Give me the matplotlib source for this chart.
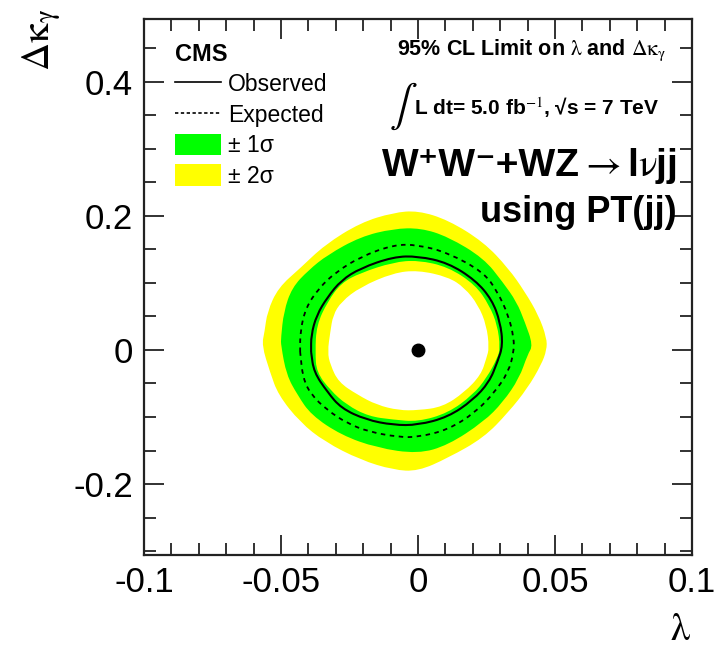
import matplotlib
matplotlib.use('Agg')
import matplotlib.pyplot as plt
from matplotlib.lines import Line2D
from matplotlib.patches import Patch, PathPatch
from matplotlib.path import Path
from matplotlib.ticker import MultipleLocator, FixedLocator, FixedFormatter

plt.rcParams['font.family'] = ['Liberation Sans', 'DejaVu Sans']
plt.rcParams['mathtext.fontset'] = 'stix'
plt.rcParams['axes.unicode_minus'] = False

# 95% CL contours, (lambda, delta kappa_gamma)
# outer edge of the +-2 sigma band
p2_lam = [-0.057, -0.056, -0.055, -0.051, -0.043, -0.034, -0.021, -0.009, 0.000, 0.011, 0.024, 0.033, 0.039, 0.044,
          0.047, 0.047, 0.045, 0.040, 0.033, 0.024, 0.011, 0.000, -0.009, -0.021, -0.034, -0.043, -0.051, -0.054]
p2_dk = [0.007, 0.027, 0.057, 0.093, 0.122, 0.157, 0.190, 0.205, 0.208, 0.194, 0.161, 0.122, 0.087, 0.052,
         0.018, 0.000, -0.022, -0.057, -0.093, -0.131, -0.161, -0.181, -0.179, -0.164, -0.137, -0.108, -0.067, -0.033]
# outer edge of the +-1 sigma band
p1_lam = [-0.050, -0.049, -0.046, -0.040, -0.033, -0.021, -0.009, 0.001, 0.011, 0.024, 0.031, 0.036, 0.039,
          0.042, 0.040, 0.037, 0.031, 0.024, 0.011, 0.000, -0.015, -0.028, -0.039, -0.044, -0.048, -0.050]
p1_dk = [0.018, 0.057, 0.093, 0.119, 0.142, 0.169, 0.181, 0.182, 0.169, 0.137, 0.101, 0.072, 0.042,
         0.007, -0.007, -0.042, -0.078, -0.107, -0.142, -0.155, -0.146, -0.127, -0.097, -0.067, -0.037, 0.007]
# inner edge of the +-1 sigma band
m1_lam = [-0.0375, -0.037, -0.033, -0.028, -0.021, -0.009, 0.000, 0.011, 0.021, 0.026, 0.029, 0.030,
          0.029, 0.025, 0.020, 0.011, 0.000, -0.009, -0.018, -0.026, -0.032, -0.037]
m1_dk = [-0.003, 0.037, 0.072, 0.100, 0.115, 0.131, 0.134, 0.124, 0.097, 0.067, 0.037, 0.003,
         -0.012, -0.042, -0.067, -0.094, -0.107, -0.104, -0.099, -0.082, -0.060, -0.033]
# inner edge of the +-2 sigma band
m2_lam = [-0.033, -0.032, -0.031, -0.028, -0.021, -0.009, 0.000, 0.011, 0.017, 0.022, 0.025, 0.026,
          0.025, 0.023, 0.017, 0.009, 0.000, -0.007, -0.015, -0.022, -0.029, -0.032]
m2_dk = [-0.003, 0.027, 0.052, 0.072, 0.094, 0.115, 0.119, 0.109, 0.093, 0.067, 0.037, 0.003,
         -0.012, -0.037, -0.063, -0.085, -0.090, -0.090, -0.082, -0.067, -0.048, -0.022]
# expected limit
exp_lam = [-0.043, -0.043, -0.041, -0.036, -0.030, -0.021, -0.009, 0.000, 0.011, 0.024, 0.029, 0.033, 0.035,
           0.035, 0.033, 0.028, 0.021, 0.011, 0.000, -0.007, -0.018, -0.026, -0.033, -0.039, -0.042, -0.043]
exp_dk = [-0.003, 0.027, 0.063, 0.093, 0.116, 0.139, 0.157, 0.157, 0.145, 0.116, 0.087, 0.052, 0.018,
          -0.003, -0.033, -0.063, -0.093, -0.119, -0.130, -0.130, -0.122, -0.109, -0.090, -0.067, -0.042, -0.003]
# observed limit
obs_lam = [-0.039, -0.039, -0.037, -0.033, -0.028, -0.021, -0.009, 0.000, 0.011, 0.021, 0.027, 0.030, 0.031,
           0.029, 0.026, 0.020, 0.011, 0.000, -0.009, -0.019, -0.028, -0.033, -0.038, -0.039]
obs_dk = [-0.003, 0.022, 0.052, 0.079, 0.104, 0.122, 0.139, 0.140, 0.130, 0.104, 0.075, 0.042, 0.007,
          -0.018, -0.048, -0.075, -0.100, -0.112, -0.112, -0.104, -0.087, -0.063, -0.033, -0.003]
# SM point
sm_lam = [0.0]
sm_dk = [0.0]

x_ticks = [-0.1, -0.05, 0, 0.05, 0.1]
x_labels = ['-0.1', '-0.05', '0', '0.05', '0.1']
y_ticks = [-0.2, 0, 0.2, 0.4]
y_labels = ['-0.2', '0', '0.2', '0.4']

green = '#00ff00'
yellow = '#ffff00'


def closed_curve(xs, ys):
    # smooth closed outline, the read points are the bezier control points
    pts = list(zip(xs, ys))
    n = len(pts)
    mids = [((pts[i][0] + pts[(i + 1) % n][0]) / 2, (pts[i][1] + pts[(i + 1) % n][1]) / 2) for i in range(n)]
    verts = [mids[-1]]
    codes = [Path.MOVETO]
    for i in range(n):
        verts += [pts[i], mids[i]]
        codes += [Path.CURVE3, Path.CURVE3]
    return Path(verts, codes)


fig = plt.figure(figsize=(7.2, 6.53), dpi=100)
ax = fig.add_axes([0.2, 0.150, 0.761, 0.821])

ax.add_patch(PathPatch(closed_curve(p2_lam, p2_dk), facecolor=yellow, lw=0, zorder=1))
ax.add_patch(PathPatch(closed_curve(p1_lam, p1_dk), facecolor=green, lw=0, zorder=2))
ax.add_patch(PathPatch(closed_curve(m1_lam, m1_dk), facecolor=yellow, lw=0, zorder=3))
ax.add_patch(PathPatch(closed_curve(m2_lam, m2_dk), facecolor='white', lw=0, zorder=4))
ax.add_patch(PathPatch(closed_curve(exp_lam, exp_dk), fill=False, edgecolor='k', lw=1.3,
                       linestyle=(0, (2.5, 2.5)), zorder=5))
ax.add_patch(PathPatch(closed_curve(obs_lam, obs_dk), fill=False, edgecolor='k', lw=1.5, zorder=6))
ax.plot(sm_lam, sm_dk, 'o', color='k', ms=9, zorder=7)

ax.set_xlim(-0.1, 0.1)
ax.set_ylim(-0.306, 0.494)
ax.xaxis.set_major_locator(FixedLocator(x_ticks))
ax.xaxis.set_major_formatter(FixedFormatter(x_labels))
ax.yaxis.set_major_locator(FixedLocator(y_ticks))
ax.yaxis.set_major_formatter(FixedFormatter(y_labels))
ax.xaxis.set_minor_locator(MultipleLocator(0.01))
ax.yaxis.set_minor_locator(MultipleLocator(0.05))
ax.tick_params(which='both', direction='in', top=True, right=True, width=1.3, color='#222222')
ax.tick_params(which='major', length=14.5, labelsize=25, pad=8)
ax.tick_params(which='minor', length=8.5)
for s in ax.spines.values():
    s.set_linewidth(1.6)
    s.set_color('#222222')

fig.text(42/720, 1-40/653, r'$\Delta\mathrm{\kappa}_{\mathrm{\gamma}}$', rotation=90, ha='center', va='center',
         fontsize=28)
fig.text(680/720, 1-630/653, r'$\mathrm{\lambda}$', ha='center', va='center', fontsize=28)

handles = [Line2D([], [], color='k', lw=1.2),
           Line2D([], [], color='k', lw=1.2, dashes=(2, 1.5)),
           Patch(facecolor=green, edgecolor='none'),
           Patch(facecolor=yellow, edgecolor='none')]
labels = ['Observed', 'Expected', '± 1σ', '± 2σ']
ax.legend(handles, labels, loc='upper left', bbox_to_anchor=(175/720, 1-43/653), bbox_transform=fig.transFigure,
          frameon=False, fontsize=16.5, title='CMS', title_fontproperties={'weight': 'bold', 'size': 17},
          alignment='left', borderpad=0, borderaxespad=0, handlelength=2.0, handleheight=1.07,
          handletextpad=0.3, labelspacing=0.3)

fig.text(666/720, 1-50/653, r'95% CL Limit on $\mathrm{\lambda}$ and $\Delta\mathrm{\kappa}_{\mathrm{\gamma}}$',
         ha='right', va='center', fontsize=15.5, weight='bold')
fig.text(403/720, 1-106/653, r'$\int$', ha='center', va='center', fontsize=30)
fig.text(414/720, 1-108/653, r'L dt= 5.0 fb$^{-1}$, √s = 7 TeV', ha='left', va='center', fontsize=15,
         weight='bold')

# process label: arrow part in mathtext, W+W- part in plain text glued on its left
proc_r = fig.text(677/720, 1-176/653, r'$\rightarrow$l$\mathrm{\nu}$jj', ha='right', va='baseline', fontsize=28,
                  weight='bold')
proc_l = fig.text(0, 1-176/653, 'W⁺W⁻+WZ', ha='right', va='baseline', fontsize=28, weight='bold')
fig.canvas.draw()
proc_l.set_x(proc_r.get_window_extent().x0 / fig.bbox.width)

fig.text(677/720, 1-212/653, 'using PT(jj)', ha='right', va='center', fontsize=26, weight='bold')

fig.savefig('out.png', dpi=100)
